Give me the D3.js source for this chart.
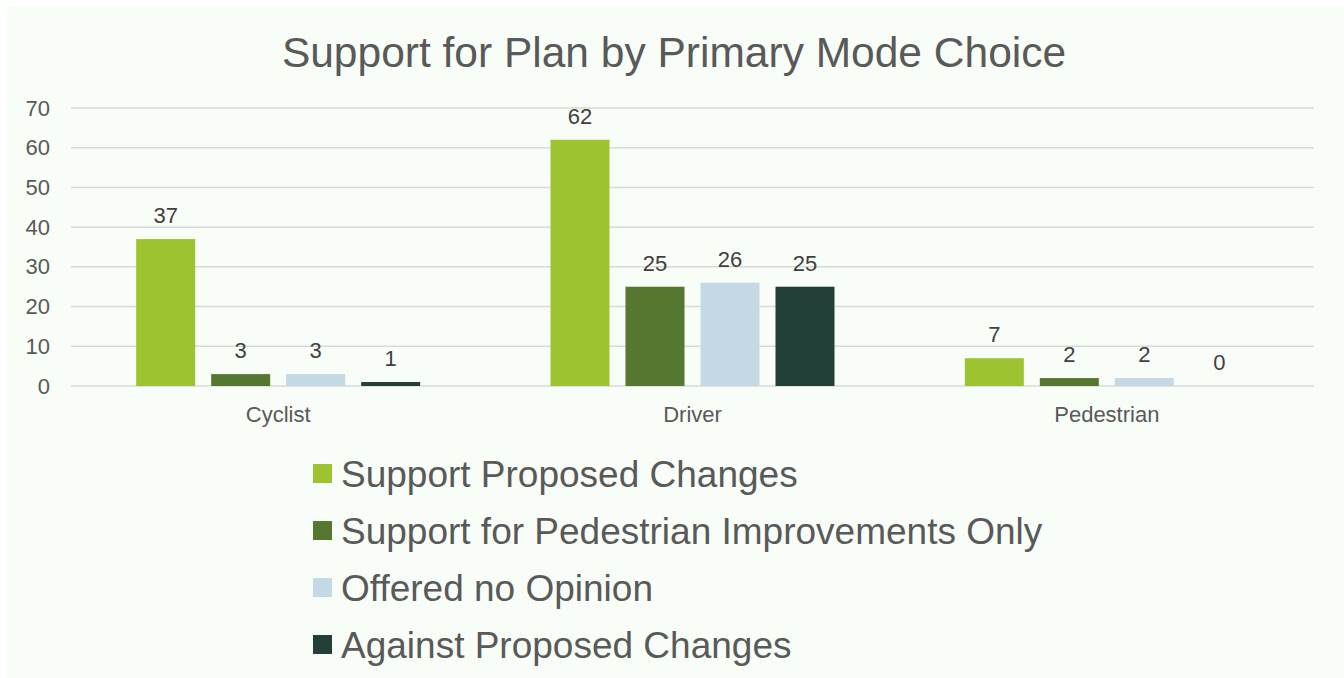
<!DOCTYPE html>
<html>
<head>
<meta charset="utf-8">
<script src="https://cdn.jsdelivr.net/npm/d3@7"></script>
<style>
  html, body { margin: 0; padding: 0; background: #ffffff; }
  svg { display: block; }
</style>
</head>
<body>
<div id="chart"></div>
<script>
// Survey responses grouped by primary travel mode
const categories = ["Cyclist", "Driver", "Pedestrian"];
const seriesNames = [
  "Support Proposed Changes",
  "Support for Pedestrian Improvements Only",
  "Offered no Opinion",
  "Against Proposed Changes"
];
const supportProposed   = [37, 62, 7];
const supportPedestrian = [3, 25, 2];
const noOpinion         = [3, 26, 2];
const againstProposed   = [1, 25, 0];
const yTicks = [0, 10, 20, 30, 40, 50, 60, 70];
const seriesColors = ["#9dc430", "#56772f", "#c5d9e4", "#223f38"];

const seriesValues = [supportProposed, supportPedestrian, noOpinion, againstProposed];

const W = 1344, H = 678;
const margin = { left: 71, right: 30, top: 108, plotBottom: 386 };

const svg = d3.select("#chart").append("svg")
  .attr("width", W).attr("height", H);

// chart area background
svg.append("rect")
  .attr("x", 6).attr("y", 6)
  .attr("width", W - 6).attr("height", H - 6)
  .attr("fill", "#f8fdf7");

const font = "'Liberation Sans', Arial, sans-serif";

// title
svg.append("text")
  .attr("x", 674).attr("y", 67)
  .attr("text-anchor", "middle")
  .attr("font-family", font)
  .attr("font-size", 42.5)
  .attr("fill", "#595959")
  .text("Support for Plan by Primary Mode Choice");

const x0 = d3.scaleBand()
  .domain(categories)
  .range([margin.left, 1314])
  .padding(0);

const groupWidth = 284;
const x1 = d3.scaleBand()
  .domain(seriesNames)
  .range([0, groupWidth])
  .paddingInner(16 / 75)
  .paddingOuter(0);

const y = d3.scaleLinear()
  .domain([0, 70])
  .range([margin.plotBottom, margin.top]);

// gridlines
svg.append("g")
  .selectAll("line")
  .data(yTicks)
  .join("line")
  .attr("x1", margin.left).attr("x2", 1314)
  .attr("y1", d => y(d)).attr("y2", d => y(d))
  .attr("stroke", "#d9d9d9")
  .attr("stroke-width", 1.5);

// y axis labels
const yAxis = d3.axisLeft(y).tickValues(yTicks).tickSize(0).tickPadding(0);
const yG = svg.append("g")
  .attr("transform", `translate(50,0)`)
  .call(yAxis);
yG.select(".domain").remove();
yG.selectAll("text")
  .attr("font-family", font)
  .attr("font-size", 22)
  .attr("fill", "#595959");

// category labels
const xAxis = d3.axisBottom(x0).tickSize(0).tickPadding(0);
const xG = svg.append("g")
  .attr("transform", `translate(0,${margin.plotBottom + 20})`)
  .call(xAxis);
xG.select(".domain").remove();
xG.selectAll("text")
  .attr("font-family", font)
  .attr("font-size", 22)
  .attr("fill", "#595959");

// bars
const groupOffset = (x0.bandwidth() - groupWidth) / 2;
const groups = svg.append("g")
  .selectAll("g")
  .data(categories)
  .join("g")
  .attr("transform", c => `translate(${x0(c) + groupOffset},0)`);

const cells = groups.selectAll("g")
  .data((c, ci) => seriesNames.map((s, si) => ({ s, si, v: seriesValues[si][ci] })))
  .join("g");

cells.append("rect")
  .attr("x", d => x1(d.s))
  .attr("width", x1.bandwidth())
  .attr("y", d => y(d.v))
  .attr("height", d => y(0) - y(d.v))
  .attr("fill", d => seriesColors[d.si]);

cells.append("text")
  .attr("x", d => x1(d.s) + x1.bandwidth() / 2)
  .attr("y", d => y(d.v) - 16)
  .attr("text-anchor", "middle")
  .attr("font-family", font)
  .attr("font-size", 22)
  .attr("fill", "#404040")
  .text(d => d.v);

// legend
const legend = svg.append("g")
  .selectAll("g")
  .data(seriesNames)
  .join("g")
  .attr("transform", (d, i) => `translate(313,${464 + i * 57})`);

legend.append("rect")
  .attr("width", 19).attr("height", 19)
  .attr("fill", (d, i) => seriesColors[i]);

legend.append("text")
  .attr("x", 28).attr("y", 23)
  .attr("font-family", font)
  .attr("font-size", 37)
  .attr("fill", "#595959")
  .text(d => d);
</script>
</body>
</html>
